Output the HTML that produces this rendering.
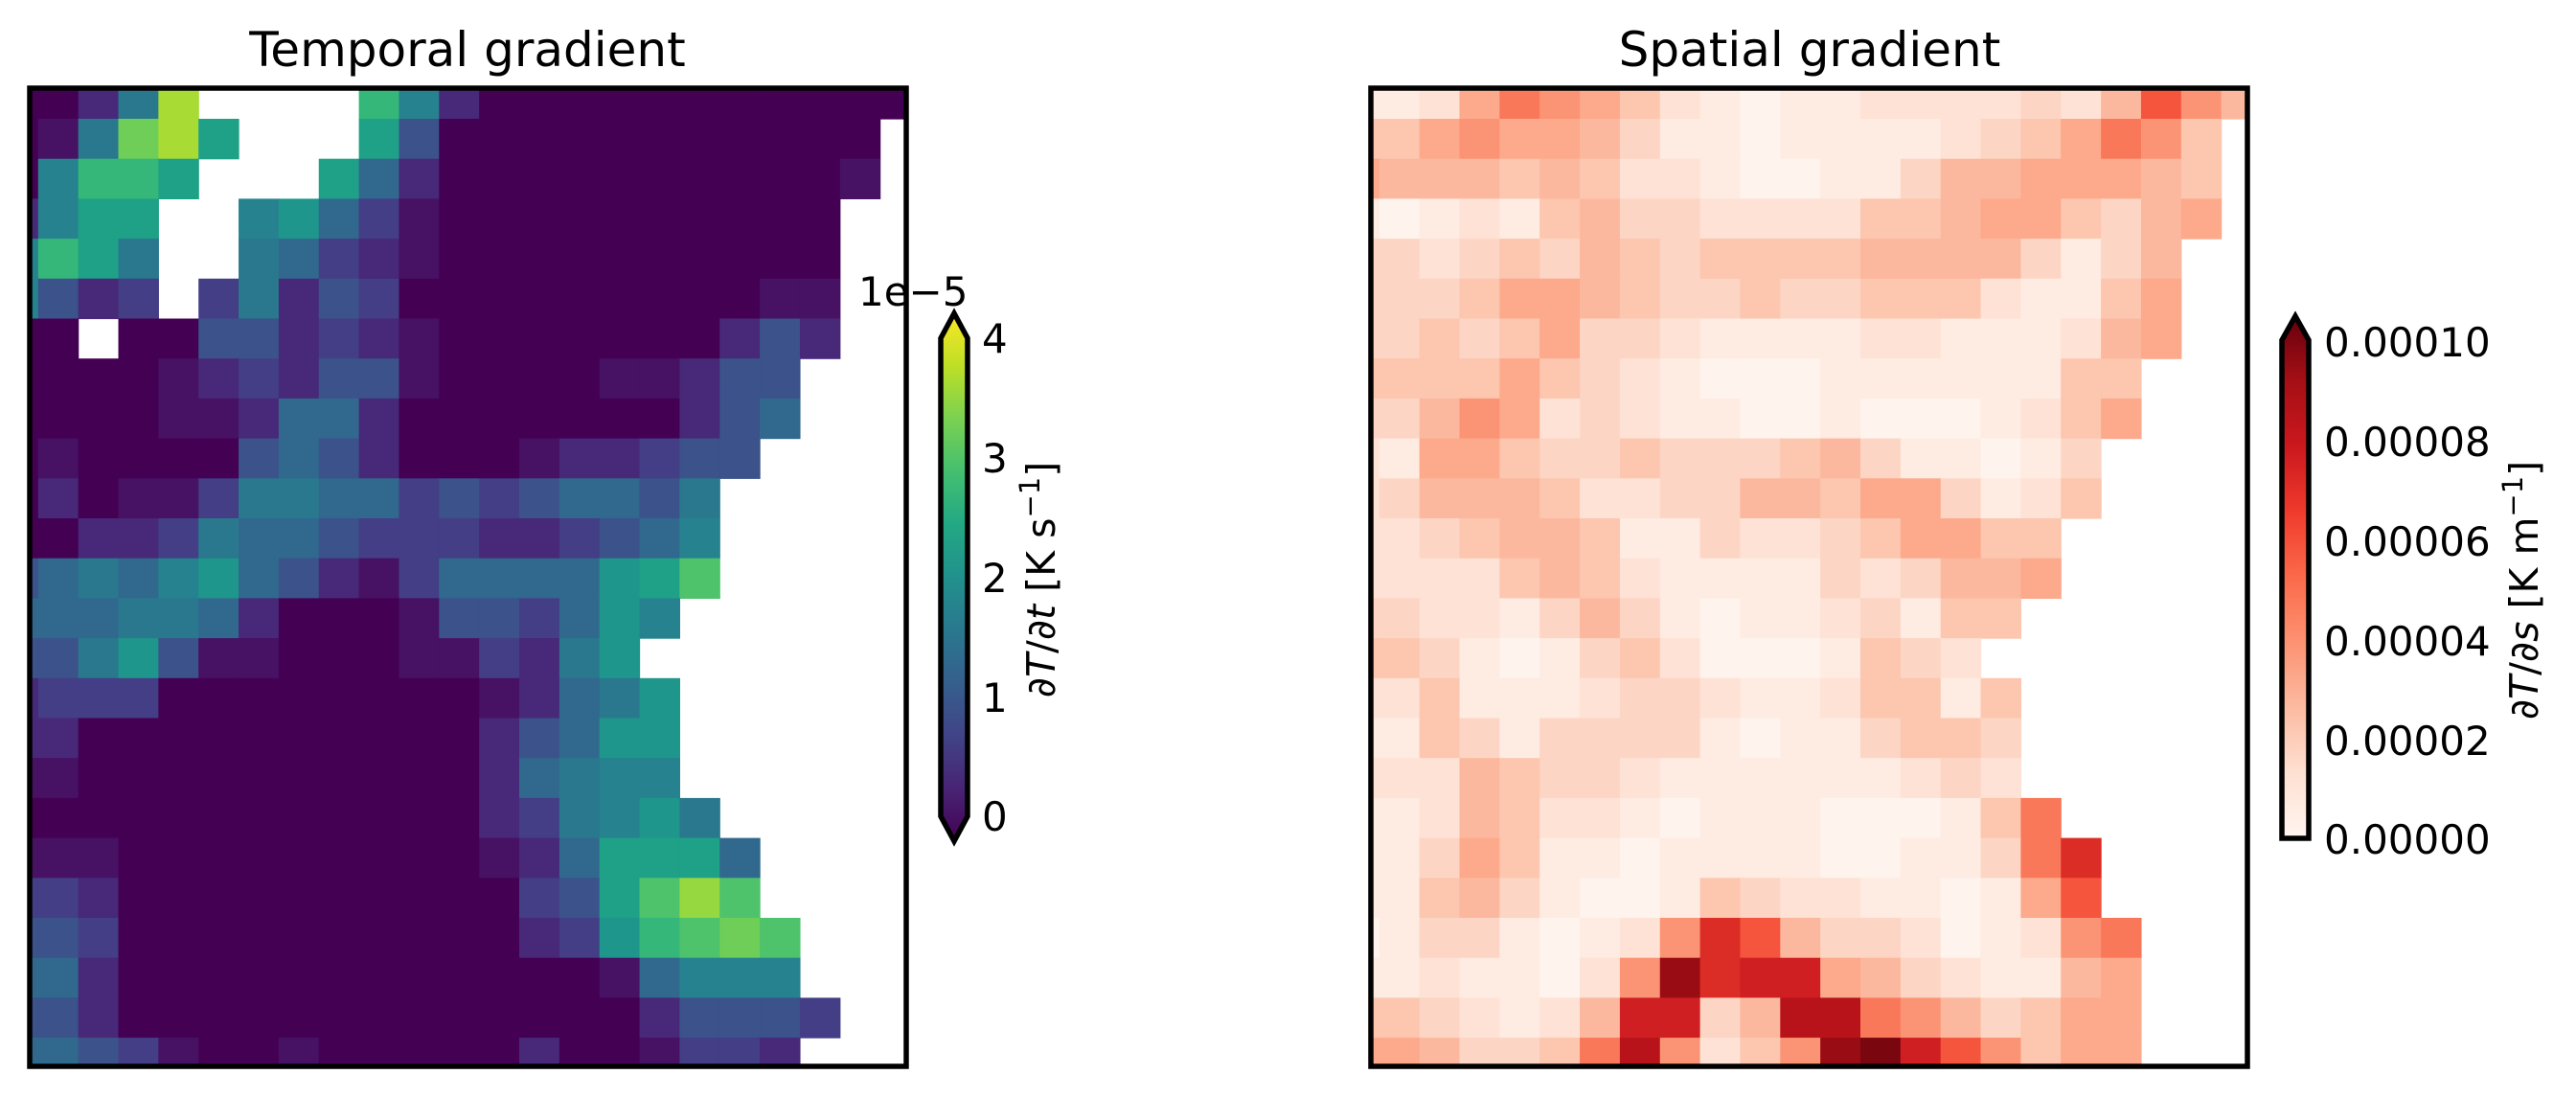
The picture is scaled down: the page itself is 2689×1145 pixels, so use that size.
<!DOCTYPE html>
<html><head><meta charset="utf-8"><style>
html,body{margin:0;padding:0;background:#fff;}
svg{display:block;font-family:"DejaVu Sans","Liberation Sans",sans-serif;}
</style></head><body>
<svg id="s" width="2689" height="1145" viewBox="0 0 2689 1145" xmlns="http://www.w3.org/2000/svg">
<defs>
<clipPath id="cl"><rect x="31" y="92" width="915" height="1021"/></clipPath>
<clipPath id="cr"><rect x="1431" y="92" width="915" height="1021"/></clipPath>
<linearGradient id="gv" x1="0" y1="1" x2="0" y2="0">
<stop offset="0" stop-color="#440154"/><stop offset="0.1" stop-color="#482475"/><stop offset="0.2" stop-color="#414487"/><stop offset="0.3" stop-color="#355f8d"/><stop offset="0.4" stop-color="#2a788e"/><stop offset="0.5" stop-color="#21918c"/><stop offset="0.6" stop-color="#22a884"/><stop offset="0.7" stop-color="#44bf70"/><stop offset="0.8" stop-color="#7ad151"/><stop offset="0.9" stop-color="#bddf26"/><stop offset="1" stop-color="#fde725"/>
</linearGradient>
<linearGradient id="gr" x1="0" y1="1" x2="0" y2="0">
<stop offset="0" stop-color="#fff5f0"/><stop offset="0.125" stop-color="#fee0d2"/><stop offset="0.25" stop-color="#fcbba1"/><stop offset="0.375" stop-color="#fc9272"/><stop offset="0.5" stop-color="#fb6a4a"/><stop offset="0.625" stop-color="#ef3b2c"/><stop offset="0.75" stop-color="#cb181d"/><stop offset="0.875" stop-color="#a50f15"/><stop offset="1" stop-color="#67000d"/>
</linearGradient>
</defs>
<g id="gl" clip-path="url(#cl)"></g>
<g id="grr" clip-path="url(#cr)"></g>
<rect x="31" y="92" width="915" height="1021" fill="none" stroke="#000" stroke-width="5.5"/>
<rect x="1431" y="92" width="915" height="1021" fill="none" stroke="#000" stroke-width="5.5"/>
<text x="488" y="69" font-size="50" text-anchor="middle">Temporal gradient</text>
<text x="1889" y="69" font-size="50" text-anchor="middle">Spatial gradient</text>

<polygon points="982,353 996,327 1010,353 1010,852 996,878 982,852" fill="url(#gv)"/>
<polygon points="982,353 996,327 1010,353 1010,852 996,878 982,852" fill="none" stroke="#000" stroke-width="5.5" stroke-linejoin="miter"/>
<g font-size="42">
<text x="1025" y="368">4</text>
<text x="1025" y="493">3</text>
<text x="1025" y="618">2</text>
<text x="1025" y="743">1</text>
<text x="1025" y="867">0</text>
<text x="896" y="319">1e−5</text>
</g>
<text transform="translate(1101,605) rotate(-90)" font-size="41" text-anchor="middle">∂<tspan font-style="italic">T</tspan>/∂<tspan font-style="italic">t</tspan> [K s<tspan dy="-16" font-size="29">−1</tspan><tspan dy="16">]</tspan></text>

<polygon points="2382,355 2396,330 2410,355 2410,875 2382,875" fill="url(#gr)"/>
<polygon points="2382,355 2396,330 2410,355 2410,875 2382,875" fill="none" stroke="#000" stroke-width="5.5"/>
<g font-size="42">
<text x="2426" y="372">0.00010</text>
<text x="2426" y="476">0.00008</text>
<text x="2426" y="580">0.00006</text>
<text x="2426" y="684">0.00004</text>
<text x="2426" y="788">0.00002</text>
<text x="2426" y="891">0.00000</text>
</g>
<text transform="translate(2649,616) rotate(-90)" font-size="41" text-anchor="middle">∂<tspan font-style="italic">T</tspan>/∂<tspan font-style="italic">s</tspan> [K m<tspan dy="-16" font-size="29">−1</tspan><tspan dy="16">]</tspan></text>
</svg>
<script>
var V={'0':'#440154','1':'#471164','2':'#482878','b':'#433e85','3':'#3b528b','4':'#31688e','a':'#2a788e','5':'#26828e','c':'#1f968b','6':'#1fa187','7':'#35b779','e':'#4ec36b','8':'#6ece58','f':'#95d840','9':'#a8db34'};
var R={'0':'#fff3ed','1':'#feebe2','2':'#fee2d5','3':'#fdd5c4','4':'#fcc6af','5':'#fcb89e','6':'#fca98c','7':'#fb9474','8':'#f9785a','9':'#f5553d','a':'#dc2c26','r':'#cf1f22','d':'#b8131a','e':'#9a0c14','f':'#7a0610'};
var L=["002a9....75200000000000","01a896...6300000000000.","05776...64200000000001.","2566..5c4b10000000000..","576a..a4b210000000000..","532b.ba23b00000000011..","00.00332b210000000232..","000012b2331000011233...","00001124420000000234...","0100003432000122b33....","02011baa44b3b3443a.....","0022ba443bbb22b345.....","34a45c4321b4444c6e.....","444aa42000133b4c5......","33ac31100011b2ac.......","2bbb00000000124ac......","220000000000234cc......","11000000000024a55......","0000000000002ba5ca.....","1110000000001246664....","bb20000000000b36efe....","33b00000000002bc7e8e...","44200000000000014555...","33200000000000002333b..","443b1001000002001bb2..."];
var Rr=["11268764210112222325975","4467665311011112346874.","6555454221001135566654.","1012145332222445664356.","332343543444455553135..","333466543343344421146..","334346332111122111256..","44446432100011111144...","33576232110010001246...","2166433433345311013....","2355542233554663124....","223455411322346644.....","222245421111323556.....","33221353101123144......","4431013420001432.......","22411123321124414......","11431333310113443......","22254332111111232......","112542210111000148.....","113641101111001138a....","1145310014322110169....","013310127a9533201278...","11211027earr65321156...","4432125rr35dd8753466...","6653348d7247efr97466..."];
function draw(gid,rows,pal,ox){
 var g=document.getElementById(gid),ns="http://www.w3.org/2000/svg",w=41.85,h=41.7,X0=39.8+ox,Y0=124;
 for(var r=0;r<rows.length;r++){var s=rows[r];
  var y0=r==0?80:Y0+(r-1)*h, y1=Y0+r*h; if(r==24)y1=1130;
  for(var c=0;c<s.length;c++){var ch=s[c]; if(ch=='.'||!pal[ch])continue;
   var x0=c==0?ox+20:X0+(c-1)*w, x1=c==22?ox+960:X0+c*w;
   var e=document.createElementNS(ns,'rect');
   e.setAttribute('x',x0);e.setAttribute('y',y0);e.setAttribute('width',x1-x0+0.6);e.setAttribute('height',y1-y0+0.6);
   e.setAttribute('fill',pal[ch]);g.appendChild(e);}}
}
draw('gl',L,V,0);draw('grr',Rr,R,1400);
</script>
</body></html>
